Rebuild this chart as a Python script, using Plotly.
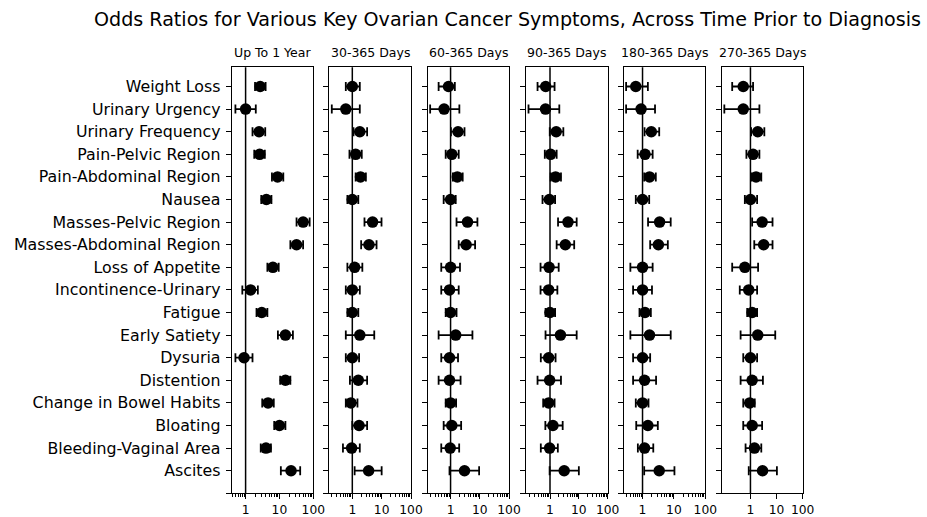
import math
import plotly.graph_objects as go

# Symptoms, bottom row first (alphabetical from the bottom up)
symptoms = [
    "Ascites", "Bleeding-Vaginal Area", "Bloating", "Change in Bowel Habits",
    "Distention", "Dysuria", "Early Satiety", "Fatigue", "Incontinence-Urinary",
    "Loss of Appetite", "Masses-Abdominal Region", "Masses-Pelvic Region",
    "Nausea", "Pain-Abdominal Region", "Pain-Pelvic Region",
    "Urinary Frequency", "Urinary Urgency", "Weight Loss",
]

windows = ["Up To 1 Year", "30-365 Days", "60-365 Days",
           "90-365 Days", "180-365 Days", "270-365 Days"]

# Odds ratios and 95% CI bounds per window, same order as `symptoms`
or_1yr = [22, 4.0, 10, 4.6, 15, 0.9, 15, 3.0, 1.4, 6.4, 32, 50, 4.1, 8.8, 2.6, 2.5, 1.0, 2.7]
lo_1yr = [11, 2.8, 7.0, 3.1, 10.5, 0.5, 9.0, 2.1, 0.8, 4.4, 21, 32, 2.9, 6.0, 1.8, 1.6, 0.5, 1.9]
hi_1yr = [41, 5.6, 15, 6.8, 21, 1.6, 25, 4.4, 2.3, 9.5, 50, 78, 5.8, 13, 3.7, 3.8, 2.0, 3.9]

or_30 = [3.6, 0.95, 1.7, 0.9, 1.6, 1.0, 1.8, 1.0, 1.0, 1.2, 3.7, 4.9, 1.0, 1.9, 1.3, 1.8, 0.6, 1.0]
lo_30 = [1.2, 0.48, 1.0, 0.6, 0.83, 0.6, 0.6, 0.68, 0.6, 0.68, 2.0, 2.6, 0.68, 1.3, 0.8, 1.1, 0.2, 0.6]
hi_30 = [10, 1.8, 3.2, 1.5, 3.2, 1.7, 5.6, 1.6, 1.8, 2.2, 6.7, 9.9, 1.6, 2.9, 2.1, 3.2, 1.8, 1.8]

or_60 = [3.0, 0.97, 1.1, 1.0, 0.92, 0.92, 1.5, 1.0, 0.92, 1.0, 3.4, 3.8, 1.0, 1.7, 1.1, 1.8, 0.6, 0.85]
lo_60 = [0.92, 0.48, 0.58, 0.68, 0.39, 0.48, 0.39, 0.68, 0.48, 0.48, 1.9, 1.6, 0.58, 1.2, 0.68, 1.03, 0.2, 0.39]
hi_60 = [9.5, 1.97, 2.3, 1.55, 2.2, 1.8, 5.6, 1.6, 1.9, 2.1, 6.9, 8.3, 1.5, 2.6, 1.9, 3.0, 2.0, 1.4]

or_90 = [3.1, 0.97, 1.26, 0.9, 0.97, 0.9, 2.3, 1.0, 0.9, 0.93, 3.4, 4.2, 0.95, 1.56, 1.05, 1.64, 0.7, 0.71]
lo_90 = [0.97, 0.48, 0.69, 0.58, 0.37, 0.48, 0.7, 0.7, 0.47, 0.47, 1.7, 1.9, 0.55, 1.05, 0.66, 0.98, 0.18, 0.37]
hi_90 = [10, 1.87, 2.75, 1.44, 2.4, 1.56, 8.4, 1.5, 1.8, 2.0, 6.9, 8.4, 1.5, 2.4, 1.7, 2.9, 2.1, 1.44]

or_180 = [3.4, 1.16, 1.48, 1.0, 1.16, 1.0, 1.67, 1.2, 1.0, 1.0, 3.2, 3.5, 1.0, 1.67, 1.2, 1.9, 0.9, 0.61]
lo_180 = [1.13, 0.71, 0.63, 0.61, 0.5, 0.5, 0.41, 0.8, 0.5, 0.41, 1.75, 1.5, 0.61, 1.13, 0.7, 1.16, 0.3, 0.3]
hi_180 = [10.4, 2.2, 3.07, 1.55, 2.7, 1.75, 7.9, 1.84, 2.0, 2.1, 6.4, 7.9, 1.63, 2.65, 2.1, 3.4, 2.5, 1.48]

or_270 = [2.9, 1.42, 1.16, 0.94, 1.16, 1.0, 1.9, 1.16, 0.86, 0.61, 3.2, 2.8, 1.0, 1.64, 1.26, 1.9, 0.53, 0.53]
lo_270 = [0.86, 0.65, 0.53, 0.53, 0.42, 0.53, 0.42, 0.75, 0.39, 0.2, 1.4, 1.16, 0.61, 1.1, 0.7, 1.06, 0.1, 0.2]
hi_270 = [10.3, 2.6, 2.8, 1.46, 3.0, 1.8, 8.9, 1.8, 1.8, 1.96, 7.0, 7.0, 1.8, 2.6, 2.2, 3.4, 2.2, 1.26]

panels = [
    (or_1yr, lo_1yr, hi_1yr),
    (or_30, lo_30, hi_30),
    (or_60, lo_60, hi_60),
    (or_90, lo_90, hi_90),
    (or_180, lo_180, hi_180),
    (or_270, lo_270, hi_270),
]

x_ticks = [1, 10, 100]
x_tick_text = ["1", "10", "100"]

W, H = 927, 517
FONT = "DejaVu Sans"

# panel frames in pixels (left, right); shared top/bottom
frames = [(231.7, 313.3), (329.3, 411.0), (427.7, 509.0),
          (526.0, 607.7), (623.7, 705.3), (721.7, 802.7)]
top_px, bottom_px = 67.3, 493.3
y_dom = [1 - bottom_px / H, 1 - top_px / H]

fig = go.Figure()
layout = dict(
    template="none",
    width=W, height=H, autosize=False,
    margin=dict(l=0, r=0, t=0, b=0, pad=0, autoexpand=False),
    paper_bgcolor="white", plot_bgcolor="white",
    showlegend=False,
    font=dict(family=FONT, color="black"),
)

ypos = list(range(len(symptoms)))
minor_vals = [m * 10 ** e for e in (-2, -1, 0, 1) for m in range(2, 10)]

annotations = []
shapes = []
for i, ((orv, lo, hi), name) in enumerate(zip(panels, windows)):
    n = i + 1
    xa = "x" if n == 1 else f"x{n}"
    ya = "y" if n == 1 else f"y{n}"
    err_plus = [h - o for h, o in zip(hi, orv)]
    err_minus = [o - l for o, l in zip(orv, lo)]
    fig.add_trace(go.Scatter(
        x=orv, y=ypos, mode="markers",
        marker=dict(color="black", size=11.5, line=dict(width=0)),
        error_x=dict(type="data", symmetric=False, array=err_plus,
                     arrayminus=err_minus, color="black", thickness=1.8, width=4.5),
        xaxis=xa, yaxis=ya, cliponaxis=False,
    ))

    # x range: data extent with a 5% pad on the left, fixed at 100 on the right
    lmin = math.log10(min(lo))
    lmax = math.log10(max(hi))
    left = lmin - 0.05 * (lmax - lmin)
    L, R = frames[i]
    xaxis = dict(
        type="log", range=[left, 2], domain=[L / W, R / W], anchor=ya,
        automargin=False,
        tickmode="array", tickvals=x_ticks, ticktext=x_tick_text,
        ticks="outside", ticklen=5, tickwidth=1, tickcolor="black",
        showline=True, linecolor="black", linewidth=1.1, mirror=True,
        showgrid=False, zeroline=False,
        tickfont=dict(family=FONT, size=12.3, color="black"),
    )
    if i < 5:
        xaxis["minor"] = dict(ticks="outside", ticklen=2.8, tickwidth=0.8,
                              tickcolor="black", tickmode="array",
                              tickvals=minor_vals, showgrid=False)
    layout["xaxis" if n == 1 else f"xaxis{n}"] = xaxis

    yaxis = dict(
        range=[-1, 17.85], domain=y_dom, anchor=xa,
        automargin=False,
        tickmode="array", tickvals=[-1] + ypos,
        ticktext=[""] + (symptoms if i == 0 else [""] * len(symptoms)),
        ticks="outside", ticklen=5, tickwidth=1, tickcolor="black",
        ticklabelstandoff=2,
        showline=True, linecolor="black", linewidth=1.1, mirror=True,
        showgrid=False, zeroline=False,
        tickfont=dict(family=FONT, size=15.8, color="black"),
    )
    layout["yaxis" if n == 1 else f"yaxis{n}"] = yaxis

    # reference line at OR = 1
    shapes.append(dict(type="line", xref=xa, yref=f"{ya} domain",
                       x0=1, x1=1, y0=0, y1=1,
                       line=dict(color="black", width=1.5)))

    annotations.append(dict(
        text=name, x=(L + R) / 2 / W, y=1 - 53 / H, xref="paper", yref="paper",
        xanchor="center", yanchor="middle", showarrow=False,
        font=dict(family=FONT, size=12.5, color="black"),
    ))

annotations.append(dict(
    text="Odds Ratios for Various Key Ovarian Cancer Symptoms, Across Time Prior to Diagnosis",
    x=508 / W, y=1 - 20 / H, xref="paper", yref="paper",
    xanchor="center", yanchor="middle", showarrow=False,
    font=dict(family=FONT, size=19.1, color="black"),
))

layout["annotations"] = annotations
layout["shapes"] = shapes
fig.update_layout(**layout)
fig.write_html("out.html")
